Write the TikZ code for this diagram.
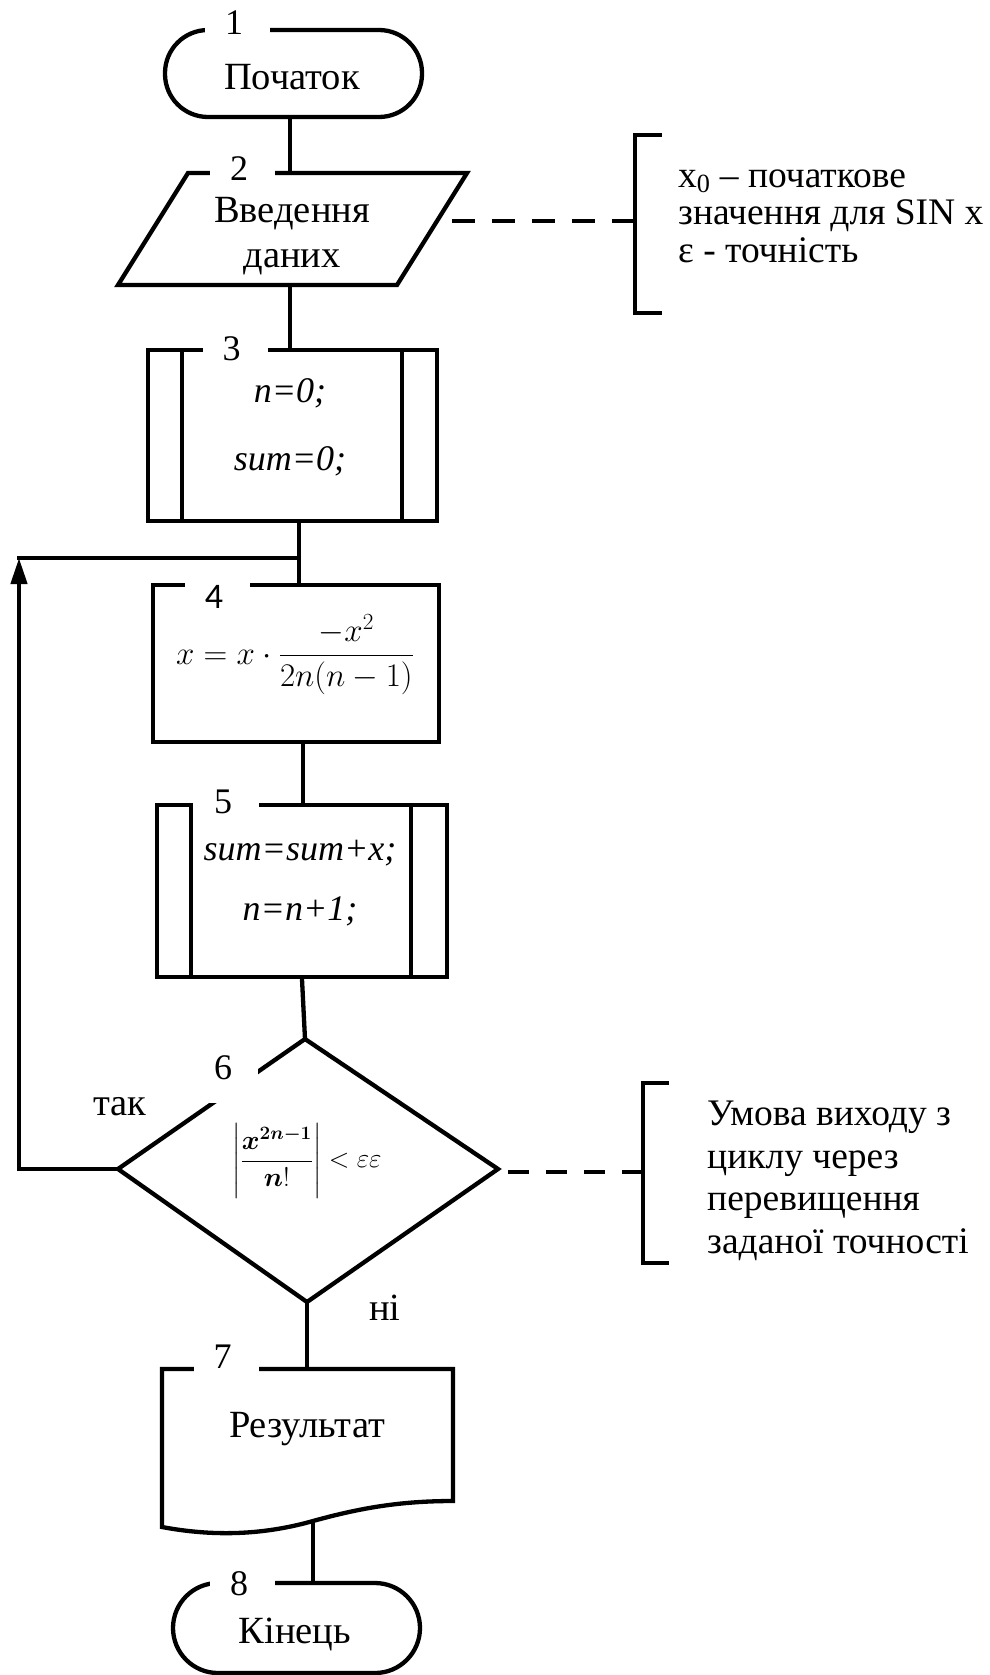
\RequirePackage{fix-cm}
\documentclass[tikz,border=0pt]{standalone}
\usepackage{amsmath}
\usepackage{bm}
\usepackage{fontspec}
\setmainfont{Liberation Serif}
\newfontfamily\digitsans{Carlito}
\usetikzlibrary{arrows.meta,calc}

\begin{document}
\begin{tikzpicture}[x=1pt,y=-1pt,
  link/.style={line width=4.3pt},
  blk/.style={draw, line width=4.3pt, inner sep=0pt, rectangle},
  txt/.style={inner sep=0pt, anchor=base, font=\fontsize{38.5}{44}\selectfont},
  itxt/.style={txt, font=\fontsize{36}{42}\selectfont\itshape},
  note/.style={inner sep=0pt, anchor=base west, font=\fontsize{37.5}{42}\selectfont},
  numlabel/.style={fill=white, inner sep=0pt, anchor=base, minimum width=65pt,
    text height=30pt, text depth=10pt, font=\fontsize{36}{42}\selectfont,
    execute at end node={\kern7pt}},
  numtext/.style={inner sep=0pt, anchor=base, font=\fontsize{36}{42}\selectfont},
  mask/.style={fill=white},
  dashlinkA/.style={line width=4.3pt, dash pattern=on 23pt off 17pt},
  dashlinkB/.style={line width=4.3pt, dash pattern=on 21pt off 17pt},
  bracket/.style={line width=4.3pt},
]
\useasboundingbox (0,0) rectangle (990,1675);
\fill[white] (0,0) rectangle (990,1675);

% ---------- blocks ----------
\node[blk, rounded corners=43pt, minimum width=257pt, minimum height=87pt] (start) at (293.5,73.5) {};

\coordinate (ioA) at (188,173);
\coordinate (ioB) at (467,173);
\coordinate (ioC) at (397,285);
\coordinate (ioD) at (118,285);
\coordinate (ioN) at (290,173);
\coordinate (ioS) at (290,285);
\draw[link] (ioA) -- (ioB) -- (ioC) -- (ioD) -- cycle;

\node[blk, minimum width=289pt, minimum height=171pt] (init) at (292.5,435.5) {};
\draw[link] ($(init.north west)+(36,0)$) -- ($(init.south west)+(36,0)$);
\draw[link] ($(init.north east)+(-37,0)$) -- ($(init.south east)+(-37,0)$);

\node[blk, minimum width=286pt, minimum height=157pt] (calc) at (296,663.5) {};

\node[blk, minimum width=290pt, minimum height=172pt] (upd) at (302,891) {};
\draw[link] ($(upd.north west)+(36,0)$) -- ($(upd.south west)+(36,0)$);
\draw[link] ($(upd.north east)+(-38,0)$) -- ($(upd.south east)+(-38,0)$);

% decision rhombus
\coordinate (dT) at (305,1039);
\coordinate (dL) at (118,1169);
\coordinate (dB) at (307,1302);
\coordinate (dR) at (498,1169);
\draw[link] (dT) -- (dR) -- (dB) -- (dL) -- cycle;

% output document with wavy lower edge
\coordinate (dN) at (307,1369);
\coordinate (dS) at (313,1521);
\draw[link] (162,1369) -- (453,1369) -- (453,1501)
  .. controls (400,1501) and (360,1508) .. (dS)
  .. controls (260,1536) and (210,1536) .. (162,1527) -- cycle;

\node[blk, rounded corners=45pt, minimum width=247pt, minimum height=90pt] (stop) at (296.5,1628) {};

% ---------- connectors ----------
\coordinate (jn) at (299,558);
\coordinate (loopB) at (19,1169);
\coordinate (loopT) at (19,558);
\draw[link] (start.south -| ioN) -- (ioN);
\draw[link] (ioS) -- (ioS |- init.north);
\draw[link] (init.south -| jn) -- (calc.north -| jn);
\draw[link] ($(calc.south)+(7,0)$) -- ($(upd.north)+(1,0)$);
\draw[link] (upd.south) -- (dT);
\draw[link] (dB) -- (dB |- dN);
\draw[link] (dS) -- (dS |- stop.north);
\draw[link, -{Triangle[length=26pt,width=16pt]}] (dL) -- (loopB) -- (loopT);
\draw[link, line cap=rect] (loopT) -- (jn);

% ---------- comments ----------
\coordinate (c1a) at (452,221);
\coordinate (c1b) at (635,221);
\draw[dashlinkA] (c1a) -- (c1b);
\draw[bracket] (662,135) -- (635,135) -- (635,313) -- (662,313);

\coordinate (c2a) at (508,1172);
\coordinate (c2b) at (643,1172);
\draw[dashlinkB] (c2a) -- (c2b);
\draw[bracket] (669,1083) -- (643,1083) -- (643,1263) -- (669,1263);

% ---------- block numbers ----------
\node[numlabel] (n1) at (237.5,35) {1};
\node[numlabel] (n2) at (242.5,180) {2};
\node[numlabel] (n3) at (235,360) {3};
\node[numlabel] (n4) at (217.5,608) {\digitsans 4};
\fill[mask] (193,780) rectangle (259,837);
\node[numtext] (n5) at (223,813) {5};
\fill[mask] (193,1040) rectangle (258,1103);
\node[numtext] (n6) at (223,1079) {6};
\node[numlabel] (n7) at (226,1368) {7};
\node[numlabel] (n8) at (242.5,1595) {8};

% ---------- texts ----------
\node[txt] (t1) at (292,90) {Початок};
\node[txt] (t2a) at (292,222) {Введення};
\node[txt] (t2b) at (292,267) {даних};
\node[itxt] (t3a) at (290,402) {n=0;};
\node[itxt] (t3b) at (290,470) {sum=0;};
\node[inner sep=0pt, font=\fontsize{33}{40}\selectfont] (t4) at (295,655)
  {$x = x\cdot\dfrac{-x^{2}}{2n(n-1)}$};
\node[itxt] (t5a) at (300,860) {sum=sum+x;};
\node[itxt] (t5b) at (300,920) {n=n+1;};
\node[inner sep=0pt, font=\fontsize{27}{32}\selectfont] (t6) at (307,1161)
  {$\left|\dfrac{\bm{x}^{\bm{2n-1}}}{\bm{n}!}\right| < \varepsilon\varepsilon$};
\node[txt] (yes) at (120,1115) {так};
\node[txt] (no) at (385,1320) {ні};
\node[txt] (t7) at (307,1437) {Результат};
\node[txt] (t8) at (295,1643) {Кінець};

\node[note] (a1) at (678,187) {x\textsubscript{0} – початкове};
\node[note] (a2) at (678,224) {значення для SIN x};
\node[note] (a3) at (678,262) {ε - точність};

\node[note] (b1) at (707,1125) {Умова виходу з};
\node[note] (b2) at (707,1168) {циклу через};
\node[note] (b3) at (707,1210) {перевищення};
\node[note] (b4) at (707,1253) {заданої точності};
\end{tikzpicture}
\end{document}
